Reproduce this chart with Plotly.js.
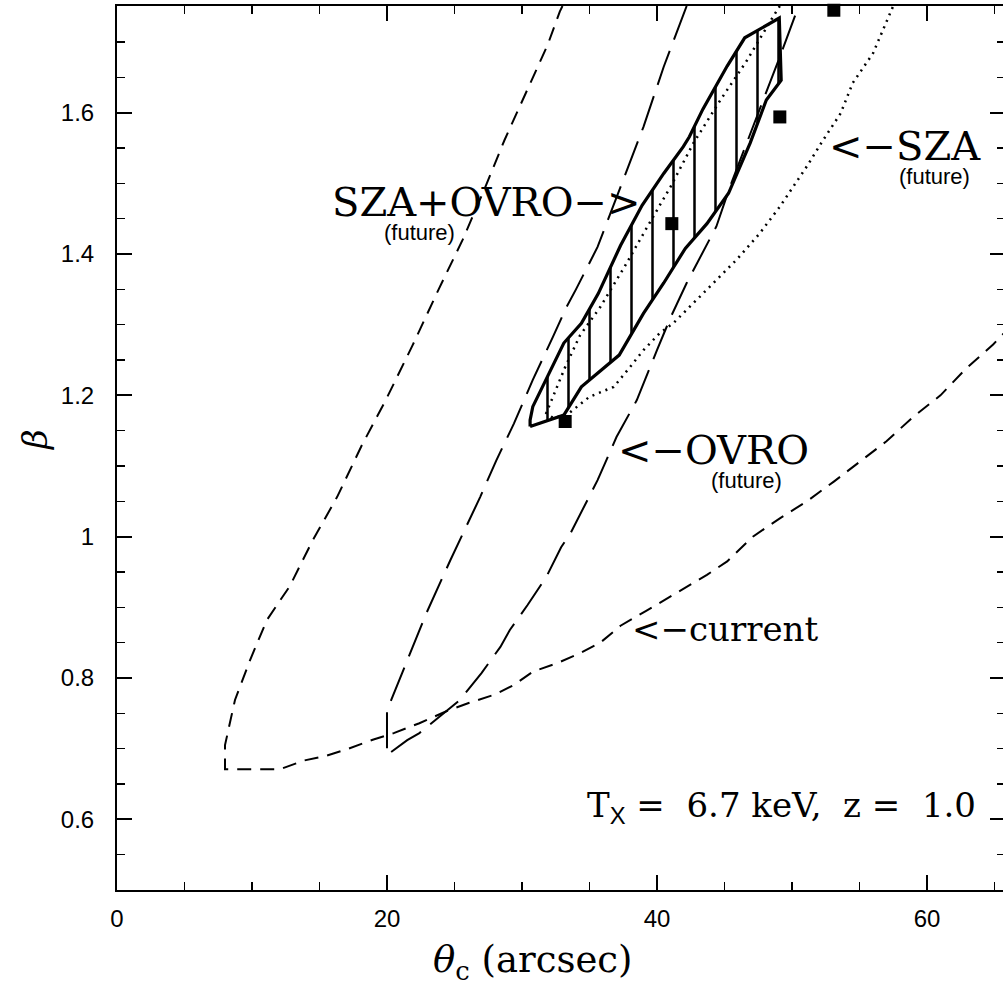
<!DOCTYPE html>
<html><head><meta charset="utf-8">
<script src="https://cdn.plot.ly/plotly-3.0.1.min.js"></script>
<style>html,body{margin:0;padding:0;overflow:hidden;background:#fff}</style>
</head><body><div id="chart" style="width:1010px;height:985px"></div>
<script>
// "current" contour (short dashes): left branch top->bottom, corner, right branch
const currentX = [33.0,32.8,31.9,30.4,28.7,27.2,25.6,23.8,21.9,19.9,18.1,16.3,14.5,12.8,11.1,9.85,8.74,8.0,8.0,
  12.1,13.8,15.5,17.0,19.0,20.5,22.4,24.4,26.1,27.9,29.4,30.8,32.6,34.3,35.8,37.3,39.2,41.2,43.7,45.2,47.1,49.1,51.1,53.1,55.0,57.0,59.0,61.0,62.9,64.9,65.8];
const currentY = [1.751,1.743,1.696,1.632,1.561,1.491,1.420,1.349,1.271,1.193,1.128,1.056,0.995,0.930,0.882,0.825,0.769,0.705,0.671,
  0.671,0.683,0.690,0.699,0.713,0.722,0.736,0.753,0.765,0.776,0.790,0.809,0.821,0.835,0.850,0.874,0.895,0.918,0.946,0.965,1.000,1.026,1.050,1.078,1.106,1.135,1.170,1.200,1.238,1.272,1.290];

// OVRO (future) contour (long dashes)
const ovroX = [42.2,40.5,39.0,37.3,35.6,34.0,33.3,32.3,30.8,29.4,28.1,26.9,24.7,22.9,21.5,20.3,20.0,20.0,
  21.5,22.4,23.9,25.4,27.0,28.4,29.1,30.4,31.8,32.9,33.6,35.6,37.0,38.5,40.0,41.0,42.2,44.4,45.4,47.6,49.1,50.3,50.5];
const ovroY = [1.751,1.665,1.580,1.495,1.410,1.350,1.325,1.283,1.222,1.160,1.108,1.056,0.967,0.891,0.825,0.770,0.754,0.691,
  0.712,0.722,0.745,0.769,0.807,0.844,0.868,0.903,0.943,0.985,1.005,1.080,1.141,1.193,1.264,1.310,1.359,1.439,1.495,1.604,1.679,1.741,1.751];

// SZA (future) contour (dotted)
const szaX = [49.1,48.6,46.6,44.7,42.7,41.0,39.3,37.6,35.8,34.3,33.2,32.2,31.8,32.3,33.3,35.0,36.8,38.0,39.0,40.2,41.2,43.4,45.9,47.6,49.1,51.1,52.3,53.6,54.5,56.0,57.0,57.5];
const szaY = [1.751,1.736,1.672,1.618,1.557,1.495,1.439,1.382,1.325,1.285,1.240,1.195,1.175,1.168,1.172,1.198,1.212,1.240,1.264,1.288,1.302,1.344,1.392,1.429,1.467,1.524,1.561,1.599,1.642,1.684,1.727,1.751];

// SZA+OVRO (future) combined region (hatched)
const comboX = [30.6,30.6,30.8,32.7,33.1,34.4,35.65,37.3,38.9,40.5,41.95,42.4,43.4,45.2,46.5,49.06,
  49.2,48.1,46.9,45.3,43.7,42.1,40.5,39.0,37.2,34.4,33.1,30.6];
const comboY = [1.156,1.165,1.184,1.259,1.274,1.302,1.344,1.412,1.469,1.514,1.552,1.566,1.605,1.666,1.706,1.734,
  1.646,1.618,1.557,1.486,1.443,1.408,1.359,1.316,1.257,1.212,1.172,1.156];

// input model points (filled squares)
const ptX = [33.2,41.1,49.1,53.1];
const ptY = [1.163,1.443,1.594,1.745];

const xTickVals = [0,20,40,60];
const xTickText = ['0','20','40','60'];
const yTickVals = [0.6,0.8,1,1.2,1.4,1.6];
const yTickText = ['0.6','0.8','1','1.2','1.4','1.6'];

const serif = 'DejaVu Serif';
const sans = 'Liberation Sans';

const traces = [
  {x: comboX, y: comboY, mode: 'lines', fill: 'toself', fillcolor: 'rgba(0,0,0,0)',
   fillpattern: {shape: '|', size: 21, solidity: 0.12, fgcolor: '#000', fgopacity: 1, bgcolor: 'rgba(0,0,0,0)', fillmode: 'overlay'},
   line: {color: '#000', width: 3.2}, hoverinfo: 'skip'},
  {x: currentX, y: currentY, mode: 'lines', line: {color: '#000', width: 2, dash: '14px,9px'}},
  {x: ovroX, y: ovroY, mode: 'lines', line: {color: '#000', width: 2, dash: '36px,12px'}},
  {x: szaX, y: szaY, mode: 'lines', line: {color: '#000', width: 2.5, dash: '2px,5px'}},
  {x: ptX, y: ptY, mode: 'markers', cliponaxis: false,
   marker: {symbol: 'square', size: 13, color: '#000', line: {width: 0}}}
];

function ann(text, x, y, size, family, xanchor, extra) {
  return Object.assign({text: text, x: x, y: y, xref: 'x', yref: 'y', showarrow: false,
    xanchor: xanchor || 'left', yanchor: 'middle', font: {family: family, size: size, color: '#000'}}, extra || {});
}

const annotations = [
  ann('SZA+OVRO−&gt;', 15.8, 1.4736, 40, serif, 'left'),
  ann('(future)', 22.44, 1.430, 22, sans, 'center'),
  ann('&lt;−SZA', 52.6, 1.553, 40, serif, 'left'),
  ann('(future)', 60.53, 1.510, 22, sans, 'center'),
  ann('&lt;−OVRO', 37.0, 1.1226, 40, serif, 'left'),
  ann('(future)', 46.64, 1.080, 22, sans, 'center'),
  ann('&lt;−current', 38.0, 0.8692, 34, serif, 'left'),
  ann('T<sub><span style="font-family:Liberation Sans">X</span></sub> =\u00a0 6.7 keV,\u00a0 z =\u00a0 1.0', 34.7, 0.6178, 34, serif, 'left'),
  {text: '<i>θ</i><sub>c</sub> (arcsec)', xref: 'paper', yref: 'paper', x: 0.468, y: -0.0814,
   xanchor: 'center', yanchor: 'middle', showarrow: false, font: {family: serif, size: 37, color: '#000'}},
  {text: '<i>β</i>', xref: 'paper', yref: 'paper', x: -0.0923, y: 0.509, textangle: -90,
   xanchor: 'center', yanchor: 'middle', showarrow: false, font: {family: serif, size: 34, color: '#000'}}
];

const axisCommon = {
  showline: true, linecolor: '#000', linewidth: 2, mirror: 'ticks',
  ticks: 'inside', ticklen: 15, tickwidth: 2, tickcolor: '#000',
  showgrid: false, zeroline: false,
  tickfont: {family: sans, size: 24, color: '#000'}
};

const layout = {
  width: 1010, height: 985,
  margin: {l: 117, r: 5, t: 6, b: 95},
  paper_bgcolor: '#fff', plot_bgcolor: '#fff',
  showlegend: false,
  xaxis: Object.assign({}, axisCommon, {range: [0, 65.78], tickmode: 'array', tickvals: xTickVals, ticktext: xTickText,
    ticklabelstandoff: 6, minor: {dtick: 5, tick0: 0, ticks: 'inside', ticklen: 8, tickwidth: 1.5, tickcolor: '#000', showgrid: false}}),
  yaxis: Object.assign({}, axisCommon, {range: [0.5, 1.751], tickmode: 'array', tickvals: yTickVals, ticktext: yTickText,
    ticklabelstandoff: 16, minor: {dtick: 0.05, tick0: 0, ticks: 'inside', ticklen: 8, tickwidth: 1.5, tickcolor: '#000', showgrid: false}}),
  annotations: annotations
};

Plotly.newPlot('chart', traces, layout, {staticPlot: true, displayModeBar: false});
</script></body></html>
